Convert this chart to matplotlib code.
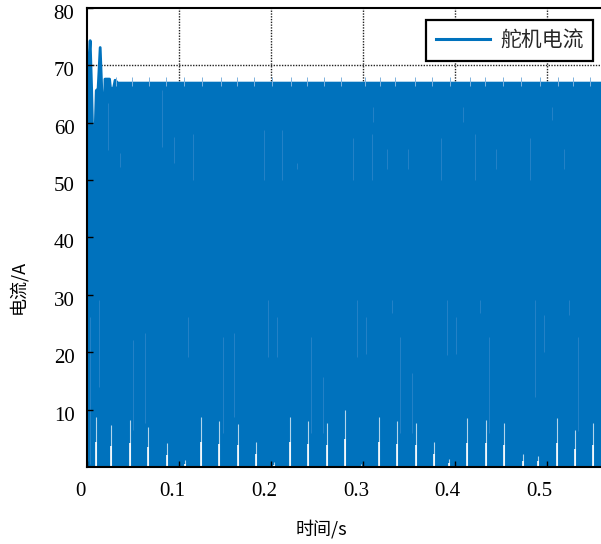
import matplotlib
matplotlib.use('Agg')
import matplotlib.pyplot as plt
import matplotlib.transforms as mtransforms

# upper envelope of the servo current (s, A)
env_t = [0.0, 0.0011, 0.0029, 0.0045, 0.0062, 0.0075, 0.0095, 0.0115, 0.0138,
         0.0155, 0.0166, 0.0185, 0.019, 0.024, 0.025, 0.0283, 0.030, 0.033, 0.56]
env_hi = [62.0, 70.0, 74.4, 66.0, 54.0, 54.0, 65.7, 66.0, 73.2,
          66.0, 63.1, 63.0, 67.7, 67.7, 66.1, 66.1, 67.5, 67.0, 67.0]

# bottom gaps (white spikes): time and height
gap_t = [0.0101, 0.0264, 0.0471, 0.0666, 0.0870, 0.1068, 0.1236, 0.1438, 0.1638,
         0.1837, 0.2036, 0.2203, 0.2405, 0.2605, 0.2804, 0.2975, 0.3171, 0.3373,
         0.3573, 0.3775, 0.3942, 0.4138, 0.4340, 0.4540, 0.4739, 0.4910, 0.5109,
         0.5308, 0.5508]
gap_h = [8.8, 7.3, 8.2, 7.0, 4.2, 1.2, 8.8, 8.0, 7.5,
         4.4, 0.8, 8.8, 8.0, 7.7, 9.9, 0.5, 8.8, 8.0,
         7.7, 4.4, 1.4, 8.5, 8.2, 7.7, 2.2, 2.0, 8.5,
         6.4, 7.7]

# faint streaks inside the band: time, low, high
streak_t = [0.0033, 0.0134, 0.0503, 0.0634, 0.110, 0.1475, 0.1598, 0.197, 0.2068,
            0.2438, 0.2568, 0.2938, 0.3036, 0.3312, 0.3406, 0.3536, 0.391, 0.4008,
            0.4275, 0.4377, 0.4873, 0.4967, 0.5242, 0.534,
            0.0228, 0.0355, 0.0818, 0.0946, 0.1155, 0.1924, 0.2123, 0.2286,
            0.2888, 0.3095, 0.3112, 0.3258, 0.3493, 0.3855, 0.409, 0.4217,
            0.4453, 0.4815, 0.5058, 0.5185]
streak_lo = [0.5, 14.0, 6.4, 7.6, 19.2, 5.9, 8.8, 19.2, 19.2,
             5.9, 5.9, 19.2, 19.7, 26.8, 5.9, 5.9, 19.5, 19.7,
             26.8, 5.9, 12.2, 20.0, 26.5, 6.2,
             55.2, 52.3, 55.8, 52.9, 50.0, 50.0, 50.0, 52.0,
             50.0, 50.0, 60.2, 52.0, 52.0, 50.0, 60.2, 50.0,
             52.0, 50.0, 60.5, 52.0]
streak_hi = [26.2, 29.1, 22.1, 23.3, 26.2, 22.7, 23.3, 29.1, 26.2,
             22.7, 15.7, 29.1, 26.2, 29.1, 22.7, 16.3, 29.1, 26.2,
             29.1, 22.7, 29.1, 26.5, 29.1, 22.7,
             63.4, 54.7, 65.7, 57.5, 58.1, 58.7, 58.7, 53.0,
             57.3, 58.0, 62.8, 55.5, 55.5, 57.3, 62.8, 58.0,
             55.5, 57.3, 62.8, 55.5]

# small notches on the top edge
notch_t = [0.0312, 0.0492, 0.0674, 0.0855, 0.1054, 0.1253, 0.1453, 0.1634, 0.1815,
           0.2014, 0.2214, 0.2395, 0.2576, 0.2758, 0.3022, 0.3185, 0.3348, 0.3565,
           0.3747, 0.3946, 0.4163, 0.4326, 0.4525, 0.4725, 0.4924, 0.5123, 0.5286,
           0.5467]

xticks = [0, 0.1, 0.2, 0.3, 0.4, 0.5]
xlabels = ['0', '0.1', '0.2', '0.3', '0.4', '0.5']
yticks = [10, 20, 30, 40, 50, 60, 70, 80]
ylabels = ['10', '20', '30', '40', '50', '60', '70', '80']

blue = '#0072bd'
serif = ['Liberation Serif', 'Noto Sans CJK SC']
cjk = ['Noto Sans CJK SC', 'Liberation Serif']

fig = plt.figure(figsize=(6.01, 5.44), dpi=100)
ax = fig.add_axes([87 / 601, 1 - 467 / 544, 514 / 601, 459 / 544])

# dotted grid, behind the data
for xv in xticks[1:]:
    ax.axvline(xv, color='#222222', linestyle=(0, (1, 1)), linewidth=1.0, zorder=0.3)
ax.axhline(70, color='#222222', linestyle=(0, (1, 1)), linewidth=1.0, zorder=0.3)

ax.fill_between(env_t, 0, env_hi, color=blue, linewidth=2.0, edgecolor=blue, zorder=1)
line, = ax.plot([], [], color=blue, linewidth=2.2, label='舵机电流')

ax.vlines(streak_t, streak_lo, streak_hi, color='#2a84c8', linewidth=0.6, zorder=1.1)
ax.vlines(notch_t, 66.4, 68.0, color='#7fb2dd', linewidth=0.7, zorder=1.2)
ax.vlines(gap_t, 0, [h * 0.5 for h in gap_h], color='white', linewidth=1.2, zorder=1.3)
ax.vlines(gap_t, 0, gap_h, color='white', linewidth=0.8, alpha=0.7, zorder=1.3)

ax.set_xlim(0, 0.559)
ax.set_ylim(0, 80)
ax.set_xticks(xticks)
ax.set_xticklabels(xlabels, family=serif, fontsize=15)
ax.set_yticks(yticks)
ax.set_yticklabels(ylabels, family=serif, fontsize=15)
ax.tick_params(direction='in', length=4, width=1.0, pad=11, colors='k', zorder=3)
ax.tick_params(axis='y', pad=9)

# labels sit a bit left / low of their ticks in the original
dx = mtransforms.ScaledTranslation(-7 / 100, 0, fig.dpi_scale_trans)
for lab in ax.get_xticklabels():
    lab.set_transform(lab.get_transform() + dx)
dy = mtransforms.ScaledTranslation(0, -4 / 100, fig.dpi_scale_trans)
for lab in ax.get_yticklabels():
    lab.set_transform(lab.get_transform() + dy)

for s in ['left', 'bottom', 'top']:
    ax.spines[s].set_linewidth(1.5)
    ax.spines[s].set_zorder(3)
ax.spines['right'].set_visible(False)

ax.set_xlabel('时间/s', family=cjk, fontsize=13)
ax.xaxis.set_label_coords((321 - 87) / 514, (467 - 520) / 459)
ax.set_ylabel('电流/A', family=cjk, fontsize=13)
ax.yaxis.set_label_coords((27 - 87) / 514, (467 - 287) / 459)

leg = ax.legend(loc='upper right', bbox_to_anchor=((593 - 87) / 514, (467 - 20) / 459),
                borderaxespad=0, fancybox=False, edgecolor='k', framealpha=1,
                prop={'family': cjk, 'size': 15}, handlelength=2.6,
                borderpad=0.45, handletextpad=0.5)
leg.get_frame().set_linewidth(1.6)
for t in leg.get_texts():
    t.set_color('#262626')

fig.savefig('out.png', dpi=100)
plt.close(fig)
